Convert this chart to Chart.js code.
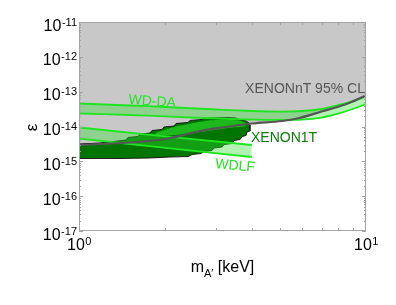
<!DOCTYPE html>
<html><head><meta charset="utf-8">
<script src="https://cdn.jsdelivr.net/npm/chart.js@4.4.0/dist/chart.umd.min.js"></script>
<style>html,body{margin:0;padding:0;background:#fff;}canvas{display:block;}</style>
</head><body>
<canvas id="c" width="396" height="305"></canvas>
<script>
// ---- axis ticks ----
const xTickValues = [1, 10];
const xTickExponents = ['0', '1'];
const yTickValues = [1e-17, 1e-16, 1e-15, 1e-14, 1e-13, 1e-12, 1e-11];
const yTickExponents = ['-17', '-16', '-15', '-14', '-13', '-12', '-11'];

// ---- XENONnT 95% CL limit ----
const xntMass = [1, 1.5, 2, 2.6, 3.15, 4, 5.1, 5.85, 7, 8.45, 10];
const xntEps  = [2.94e-15, 3.47e-15, 4.37e-15, 7.18e-15, 9.35e-15, 1.22e-14, 1.44e-14, 1.75e-14, 2.69e-14, 4.28e-14, 7.76e-14];

// ---- WD-DA band ----
const wdDaMass  = [1, 1.5, 2, 3, 4, 5, 6, 7, 8, 9, 10];
const wdDaUpper = [4.57e-14, 4.01e-14, 3.63e-14, 3.08e-14, 2.79e-14, 2.69e-14, 2.79e-14, 3.18e-14, 4.14e-14, 5.39e-14, 7.26e-14];
const wdDaLower = [2.36e-14, 2.14e-14, 1.94e-14, 1.70e-14, 1.59e-14, 1.54e-14, 1.59e-14, 1.81e-14, 2.36e-14, 3.18e-14, 4.42e-14];

// ---- WDLF band ----
const wdlfMass  = [1, 2, 4];
const wdlfUpper = [9.35e-15, 5.23e-15, 2.94e-15];
const wdlfLower = [4.52e-15, 2.44e-15, 1.33e-15];

// ---- XENON1T region (outer contour, stair-stepped) ----
const x1tMass = [1.00,1.18,1.367,1.458,1.481,1.606,1.631,1.768,1.796,1.946,1.978,2.143,2.178,2.398,2.436,2.683,2.726,3.305,3.524,3.639,3.818,3.91,
                 3.94,3.94,3.85,3.82,3.70,3.64,3.468,3.413,3.201,3.150,2.953,2.907,2.726,2.661,2.476,2.398,2.07,1.77,1.39,1.00,1.00];
const x1tEps  = [3.14e-15,3.36e-15,3.83e-15,4.09e-15,4.83e-15,5.16e-15,6.09e-15,6.50e-15,7.67e-15,8.20e-15,9.67e-15,1.03e-14,1.22e-14,1.30e-14,1.49e-14,1.59e-14,1.75e-14,1.81e-14,1.75e-14,1.54e-14,1.44e-14,1.26e-14,
                 1.10e-14,7.43e-15,6.95e-15,5.51e-15,5.16e-15,4.23e-15,3.96e-15,3.25e-15,3.04e-15,2.58e-15,2.41e-15,2.05e-15,1.91e-15,1.68e-15,1.57e-15,1.37e-15,1.33e-15,1.25e-15,1.21e-15,1.21e-15,3.14e-15];

// ---- XENON1T inner contour ----
const x1tInnerMass = [1.85,2.05,2.25,2.54,2.86,3.23,3.58,3.80,3.80,3.36,2.86,2.44,2.10,1.85];
const x1tInnerEps  = [6.5e-15,8.6e-15,1.06e-14,1.28e-14,1.50e-14,1.60e-14,1.50e-14,1.26e-14,1.02e-14,9.2e-15,7.6e-15,6.4e-15,5.6e-15,5.4e-15];

const pts = (xs, ys) => xs.map((v, i) => ({x: v, y: ys[i]}));
const FONT = '"Liberation Sans", Arial, Helvetica, sans-serif';
const BAND_LINE = '#1ee61e';
const BAND_FILL = 'rgba(50,225,50,0.38)';

const frame = {
  id: 'frame',
  afterDatasetsDraw(chart) {
    const {ctx, chartArea: a, scales: {x, y}} = chart;
    ctx.save();
    ctx.strokeStyle = '#a4a4a4';
    ctx.lineWidth = 1;
    ctx.strokeRect(a.left + 0.5, a.top + 0.5, a.right - a.left - 1, a.bottom - a.top - 1);
    ctx.beginPath();
    for (let e = -17; e <= -11; e++) {
      const p = Math.round(y.getPixelForValue(Math.pow(10, e))) + 0.5;
      ctx.moveTo(a.left, p); ctx.lineTo(a.left + 4, p);
      ctx.moveTo(a.right, p); ctx.lineTo(a.right - 4, p);
      if (e < -11) {
        for (let k = 2; k <= 9; k++) {
          const q = Math.round(y.getPixelForValue(k * Math.pow(10, e))) + 0.5;
          ctx.moveTo(a.left, q); ctx.lineTo(a.left + 2, q);
          ctx.moveTo(a.right, q); ctx.lineTo(a.right - 2, q);
        }
      }
    }
    for (let k = 2; k <= 9; k++) {
      const q = Math.round(x.getPixelForValue(k)) + 0.5;
      ctx.moveTo(q, a.bottom); ctx.lineTo(q, a.bottom - 3);
      ctx.moveTo(q, a.top); ctx.lineTo(q, a.top + 3);
    }
    ctx.stroke();

    ctx.fillStyle = '#000';
    ctx.textBaseline = 'alphabetic';
    ctx.textAlign = 'left';
    yTickValues.forEach((v, i) => {
      const p = y.getPixelForValue(v);
      ctx.font = '11px ' + FONT;
      const ws = ctx.measureText(yTickExponents[i]).width;
      ctx.font = '16px ' + FONT;
      const wb = ctx.measureText('10').width;
      const xr = a.left - 2;
      ctx.fillText('10', xr - ws - wb - 0.5, p + 8.5);
      ctx.font = '11px ' + FONT;
      ctx.fillText(yTickExponents[i], xr - ws, p + 3.5);
    });
    xTickValues.forEach((v, i) => {
      const p = x.getPixelForValue(v);
      ctx.font = '11px ' + FONT;
      const ws = ctx.measureText(xTickExponents[i]).width;
      ctx.font = '16px ' + FONT;
      const wb = ctx.measureText('10').width;
      const x0 = p - (ws + wb) / 2;
      ctx.fillText('10', x0, a.bottom + 19);
      ctx.font = '11px ' + FONT;
      ctx.fillText(xTickExponents[i], x0 + wb + 0.5, a.bottom + 13.5);
    });

    ctx.font = '16px ' + FONT;
    const wm = ctx.measureText('m').width;
    const wk = ctx.measureText(' [keV]').width;
    ctx.font = '11px ' + FONT;
    const wa = ctx.measureText('A\u2032').width;
    const cx = (a.left + a.right) / 2;
    const tx = cx - (wm + wa + wk) / 2;
    const by = a.bottom + 41;
    ctx.font = '16px ' + FONT;
    ctx.fillText('m', tx, by);
    ctx.font = '11px ' + FONT;
    ctx.fillText('A\u2032', tx + wm, by + 4.5);
    ctx.font = '16px ' + FONT;
    ctx.fillText(' [keV]', tx + wm + wa, by);

    ctx.save();
    ctx.translate(32, (a.top + a.bottom) / 2 + 1);
    ctx.rotate(-Math.PI / 2);
    ctx.textAlign = 'center';
    ctx.textBaseline = 'middle';
    ctx.font = '17px ' + FONT;
    ctx.fillText('\u03b5', 0, 0);
    ctx.restore();

    const label = (txt, m, eps, color, rot) => {
      ctx.save();
      ctx.translate(x.getPixelForValue(m), y.getPixelForValue(eps));
      ctx.rotate(rot * Math.PI / 180);
      ctx.font = '14px ' + FONT;
      ctx.fillStyle = color;
      ctx.textAlign = 'center';
      ctx.textBaseline = 'middle';
      ctx.fillText(txt, 0, 0);
      ctx.restore();
    };
    label('WD-DA', 1.80, 5.2e-14, '#1ee61e', 4);
    label('XENONnT 95% CL', 6.13, 1.19e-13, '#555555', 0);
    label('XENON1T', 5.18, 4.68e-15, '#0a7d0a', 0);
    label('WDLF', 3.50, 7.35e-16, '#1ee61e', 5);
    ctx.restore();
  }
};

new Chart(document.getElementById('c'), {
  type: 'line',
  data: {
    datasets: [
      {data: pts(xntMass, xntEps), fill: 'end', backgroundColor: '#c8c8c8', borderWidth: 0, borderColor: 'rgba(0,0,0,0)', tension: 0.35, order: 10},
      {data: pts(x1tMass, x1tEps), fill: 'shape', backgroundColor: '#007600', borderColor: '#1a1a1a', borderWidth: 1, tension: 0, order: 8},
      {data: pts(x1tInnerMass, x1tInnerEps), fill: 'shape', backgroundColor: '#1cb81c', borderWidth: 0, borderColor: 'rgba(0,0,0,0)', tension: 0.2, order: 7},
      {data: pts(wdDaMass, wdDaUpper), fill: '+1', backgroundColor: BAND_FILL, borderColor: BAND_LINE, borderWidth: 1.8, tension: 0.35, order: 5},
      {data: pts(wdDaMass, wdDaLower), fill: false, borderColor: BAND_LINE, borderWidth: 1.8, tension: 0.35, order: 5},
      {data: pts(wdlfMass, wdlfUpper), fill: '+1', backgroundColor: BAND_FILL, borderColor: BAND_LINE, borderWidth: 1.8, tension: 0, order: 5},
      {data: pts(wdlfMass, wdlfLower), fill: false, borderColor: BAND_LINE, borderWidth: 1.8, tension: 0, order: 5},
      {data: pts(xntMass, xntEps), fill: false, borderColor: '#555555', borderWidth: 2.2, tension: 0.35, order: 1}
    ]
  },
  options: {
    responsive: false,
    devicePixelRatio: 1,
    animation: false,
    layout: {padding: {left: 79, right: 30, top: 22, bottom: 74}},
    elements: {point: {radius: 0, hoverRadius: 0}},
    plugins: {legend: {display: false}, tooltip: {enabled: false}},
    scales: {
      x: {type: 'logarithmic', min: 1, max: 10, display: false},
      y: {type: 'logarithmic', min: 1e-17, max: 1e-11, display: false}
    }
  },
  plugins: [frame]
});
</script>
</body></html>
